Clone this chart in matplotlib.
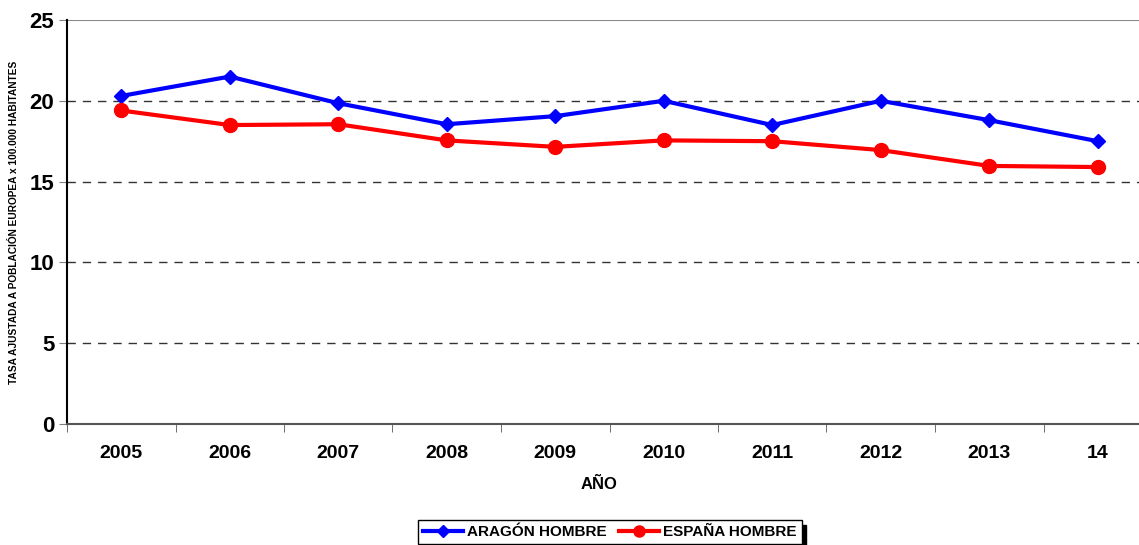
import numpy as np
import matplotlib.pyplot as plt

# datos
years = ['2005', '2006', '2007', '2008', '2009', '2010', '2011', '2012', '2013', '14']
aragon = [20.3, 21.5, 19.85, 18.55, 19.05, 20.0, 18.5, 20.0, 18.8, 17.5]
espana = [19.4, 18.5, 18.55, 17.55, 17.15, 17.55, 17.5, 16.95, 15.97, 15.9]

plt.rcParams['font.family'] = ['Liberation Sans', 'DejaVu Sans']

fig = plt.figure(figsize=(11.39, 5.45), dpi=100)
# el eje se sale un poco por la derecha, como en el original
ax = fig.add_axes([67 / 1139, 1 - 424 / 545, 1085 / 1139, (424 - 20) / 545])

x = np.arange(len(years))
ax.plot(x, aragon, color='#0000ff', lw=3, marker='D', markersize=7.5, label='ARAGÓN HOMBRE')
ax.plot(x, espana, color='#ff0000', lw=3, marker='o', markersize=10, label='ESPAÑA HOMBRE')

ax.set_xlim(-0.5, len(years) - 0.5)
ax.set_ylim(0, 25)
ax.set_yticks([0, 5, 10, 15, 20, 25])
ax.set_xticks(x)
ax.set_xticklabels(years, fontsize=14, fontweight='bold')
ax.tick_params(axis='x', length=0, pad=15)
ax.set_xticks(np.arange(-0.5, len(years)), minor=True)
ax.tick_params(axis='x', which='minor', length=6, color='#555555')
ax.tick_params(axis='y', labelsize=16, length=6, color='#808080', pad=3)
for lab in ax.get_yticklabels():
    lab.set_fontweight('bold')

# cuadricula
for v in [5, 10, 15, 20]:
    ax.axhline(v, color='#333333', lw=1, ls=(0, (6, 5)), zorder=0)
ax.axhline(25, color='#888888', lw=1.5, zorder=0)

ax.spines['top'].set_visible(False)
ax.spines['right'].set_visible(False)
ax.spines['left'].set_color('black')
ax.spines['left'].set_linewidth(1.5)
ax.spines['bottom'].set_color('#555555')
ax.spines['bottom'].set_linewidth(1.5)

ax.set_xlabel('AÑO', fontsize=12, fontweight='bold')
ax.xaxis.set_label_coords((599 - 67) / 1085, -(477 - 424) / 404)
ax.set_ylabel('TASA AJUSTADA A POBLACIÓN EUROPEA x 100.000 HABITANTES', fontsize=7.3, fontweight='bold')
ax.yaxis.set_label_coords(-(67 - 19) / 1085, 0.5)

leg = fig.legend(loc='center', bbox_to_anchor=(610 / 1139, 1 - 532 / 545), ncol=2, frameon=True,
                 prop={'weight': 'bold', 'size': 11}, fancybox=False,
                 shadow={'color': 'black', 'alpha': 1, 'ox': 3, 'oy': -3},
                 handlelength=2.6, handletextpad=0.3, columnspacing=0.8, borderpad=0.3,
                 markerscale=0.8)
leg.get_frame().set_edgecolor('black')
leg.get_frame().set_linewidth(1)

fig.savefig('out.png', dpi=100)
